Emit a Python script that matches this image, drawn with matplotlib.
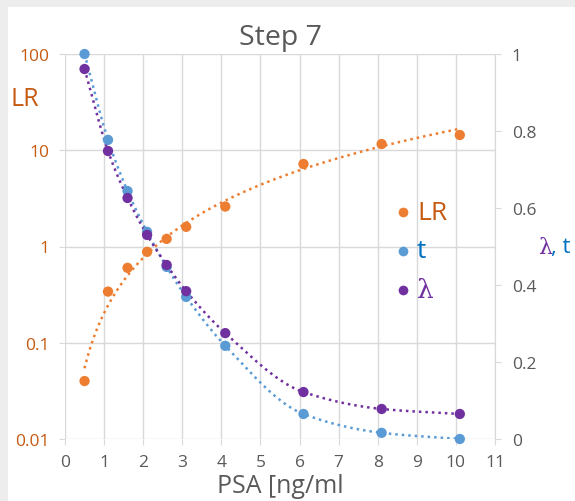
import numpy as np
import matplotlib
matplotlib.use("Agg")
import matplotlib.pyplot as plt
from matplotlib.patches import Rectangle

plt.rcParams['font.family'] = ['Open Sans', 'DejaVu Sans']

# data
psa = [0.5, 1.1, 1.6, 2.1, 2.6, 3.1, 4.1, 6.1, 8.1, 10.1]
lr = [0.04, 0.34, 0.6, 0.88, 1.2, 1.6, 2.6, 7.2, 11.6, 14.4]
t_vals = [1.0, 0.777, 0.644, 0.538, 0.447, 0.369, 0.242, 0.065, 0.016, 0.0]
lam_vals = [0.961, 0.748, 0.626, 0.530, 0.452, 0.384, 0.275, 0.122, 0.078, 0.065]

lr_ticks = [0.01, 0.1, 1, 10, 100]
lr_labels = ['0.01', '0.1', '1', '10', '100']
right_ticks = [0, 0.2, 0.4, 0.6, 0.8, 1]
right_labels = ['0', '0.2', '0.4', '0.6', '0.8', '1']
x_ticks = list(range(0, 12))

c_lr = '#ED7D31'
c_lr_txt = '#C55A11'
c_t = '#5B9BD5'
c_t_txt = '#0070C0'
c_lam = '#7030A0'
c_grey = '#595959'
c_grid = '#D9D9D9'


def smooth_curve(x, y, xs):
    # shape preserving cubic (monotone) through the points, used as trend line
    x = np.asarray(x, float)
    y = np.asarray(y, float)
    h = np.diff(x)
    d = np.diff(y) / h
    m = np.zeros_like(y)
    m[0], m[-1] = d[0], d[-1]
    for k in range(1, len(x) - 1):
        if d[k - 1] * d[k] > 0:
            w1 = 2 * h[k] + h[k - 1]
            w2 = h[k] + 2 * h[k - 1]
            m[k] = (w1 + w2) / (w1 / d[k - 1] + w2 / d[k])
    i = np.clip(np.searchsorted(x, xs) - 1, 0, len(h) - 1)
    u = (xs - x[i]) / h[i]
    h00 = 2 * u**3 - 3 * u**2 + 1
    h10 = u**3 - 2 * u**2 + u
    h01 = -2 * u**3 + 3 * u**2
    h11 = u**3 - u**2
    return h00 * y[i] + h10 * h[i] * m[i] + h01 * y[i + 1] + h11 * h[i] * m[i + 1]


fig = plt.figure(figsize=(5.75, 5.02), dpi=100)
fig.patch.set_facecolor('#EDEDED')
fig.patches.append(Rectangle((8 / 575, 0), 1, 1 - 8 / 502, transform=fig.transFigure,
                             facecolor='white', edgecolor='none', zorder=-10))

ax = fig.add_axes([65 / 575, 1 - 440 / 502, (495 - 65) / 575, (440 - 55) / 502])
ax.set_facecolor('none')
ax2 = ax.twinx()

# trend lines
xs = np.linspace(psa[0], psa[-1], 300)
b, a = np.polyfit(np.log(psa), np.log(lr), 1)
dot = (0, (1, 1.6))
ax.plot(xs, np.exp(a) * xs ** b, color=c_lr, lw=1.8, ls=dot, zorder=3)
ax2.plot(xs, smooth_curve(psa, t_vals, xs), color=c_t, lw=1.8, ls=dot, zorder=3)
ax2.plot(xs, smooth_curve(psa, lam_vals, xs), color=c_lam, lw=1.8, ls=dot, zorder=3)

ax.scatter(psa, lr, s=55, color=c_lr, zorder=4, edgecolors='none')
ax2.scatter(psa, t_vals, s=55, color=c_t, zorder=4, edgecolors='none', clip_on=False)
ax2.scatter(psa, lam_vals, s=55, color=c_lam, zorder=5, edgecolors='none')

ax.set_yscale('log')
ax.set_ylim(0.01, 100)
ax.set_xlim(0, 11)
ax2.set_ylim(0, 1)
ax.set_yticks(lr_ticks)
ax.set_yticklabels(lr_labels)
ax.minorticks_off()
ax.set_xticks(x_ticks)
ax2.set_yticks(right_ticks)
ax2.set_yticklabels(right_labels)

ax.grid(True, color=c_grid, lw=1)
ax.set_axisbelow(True)
for s in ['top', 'left', 'bottom']:
    ax.spines[s].set_visible(False)
    ax2.spines[s].set_visible(False)
ax.spines['right'].set_visible(False)
ax2.spines['right'].set_color(c_grid)

ax.tick_params(axis='y', colors=c_grid, labelcolor=c_lr_txt, labelsize=12.5, length=4, pad=7)
ax.tick_params(axis='x', colors=c_grid, labelcolor=c_grey, labelsize=12.5, length=4, pad=7)
ax2.tick_params(axis='y', colors=c_grid, labelcolor=c_grey, labelsize=12.5, length=4, pad=8)

ax.set_title('Step 7', fontsize=20.5, color=c_grey, pad=7)
ax.set_xlabel('PSA [ng/ml', fontsize=18, color=c_grey, labelpad=2)

fig.text(25 / 575, 1 - 100 / 502, 'LR', fontsize=18, color=c_lr_txt, ha='center', va='center')
fig.text(538 / 575, 1 - 248 / 502, 'λ', fontsize=16, color=c_lam, ha='left', va='center',
         family=['DejaVu Serif'])
fig.text(551 / 575, 1 - 248 / 502, ', t', fontsize=16, color=c_t_txt, ha='left', va='center')

# legend
leg_items = [('LR', c_lr, c_lr_txt), ('t', c_t, c_t_txt), ('λ', c_lam, c_lam)]
for i, (name, mc, tc) in enumerate(leg_items):
    y = 1 - (213 + 39 * i) / 502
    fig.lines.append(plt.Line2D([403 / 575], [y], transform=fig.transFigure, marker='o',
                                ms=7, color=mc, mec='none', ls='none'))
    fig.text(417 / 575, y, name, fontsize=19, color=tc, ha='left', va='center',
             family=['DejaVu Serif'] if name == 'λ' else ['Open Sans'])

fig.savefig('out.png', dpi=100)
